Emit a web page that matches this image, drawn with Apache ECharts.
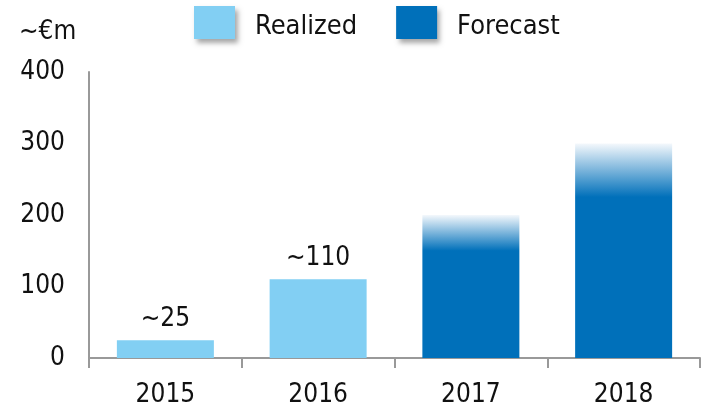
<!DOCTYPE html>
<html>
<head>
<meta charset="utf-8">
<script src="https://cdn.jsdelivr.net/npm/echarts@6/dist/echarts.min.js"></script>
<style>
html,body{margin:0;padding:0;background:#fff;}
#chart{width:704px;height:408px;}
</style>
</head>
<body>
<div id="chart"></div>
<script>
var years = ['2015', '2016', '2017', '2018'];
var realized = [25, 110, '-', '-'];
var forecast = ['-', '-', 200, 300];
var realizedLabels = ['~25', '~110', '', ''];
var yTicks = [0, 100, 200, 300, 400];

var FONT = '"DejaVu Sans Condensed", "DejaVu Sans", sans-serif';
var light = '#82CFF3';
var dark = '#0070BA';

var chart = echarts.init(document.getElementById('chart'));
var option = {
    animation: false,
    textStyle: { fontFamily: FONT },
    grid: { left: 89, right: 4, top: 72, bottom: 49, containLabel: false },
    legend: {
        left: 194, top: 6, padding: 0,
        itemWidth: 41, itemHeight: 33, itemGap: 39,
        formatter: '{t|{name}}',
        textStyle: {
            fontFamily: FONT, fontSize: 27, color: '#111', padding: [0, 0, 0, 15],
            rich: { t: { fontFamily: FONT, fontSize: 27, color: '#111', padding: [8, 0, 0, 0] } }
        },
        itemStyle: { shadowBlur: 5, shadowColor: 'rgba(0,0,0,0.35)', shadowOffsetX: 3, shadowOffsetY: 4 },
        data: [
            { name: 'Realized', icon: 'rect', itemStyle: { color: light } },
            { name: 'Forecast', icon: 'rect', itemStyle: { color: dark } }
        ]
    },
    graphic: [{
        type: 'text', left: 19, top: 19,
        style: { text: '~€m', font: '26px ' + FONT, fill: '#111' }
    }],
    xAxis: {
        type: 'category',
        data: years,
        axisLine: { lineStyle: { color: '#999', width: 2 } },
        axisTick: { show: true, length: 10, lineStyle: { color: '#999', width: 2 } },
        axisLabel: { fontFamily: FONT, fontSize: 26, color: '#111', margin: 24 }
    },
    yAxis: {
        type: 'value',
        min: yTicks[0], max: yTicks[yTicks.length - 1], interval: 100,
        splitLine: { show: false },
        axisLine: { show: true, lineStyle: { color: '#999', width: 2 } },
        axisTick: { show: false },
        axisLabel: { fontFamily: FONT, fontSize: 26, color: '#111', margin: 24 }
    },
    series: [{
        name: 'Realized',
        type: 'bar',
        stack: 'total',
        barWidth: 97,
        data: realized,
        itemStyle: { color: light },
        label: {
            show: true, position: 'top', distance: 8,
            fontFamily: FONT, fontSize: 26, color: '#111',
            formatter: function (p) { return realizedLabels[p.dataIndex]; }
        }
    }, {
        name: 'Forecast',
        type: 'bar',
        stack: 'total',
        barWidth: 97,
        data: forecast,
        itemStyle: {
            color: new echarts.graphic.LinearGradient(0, 0, 0, 1, [
                { offset: 0, color: '#f4f8fc' },
                { offset: 0.25, color: dark },
                { offset: 1, color: dark }
            ])
        }
    }]
};
chart.setOption(option);
</script>
</body>
</html>
